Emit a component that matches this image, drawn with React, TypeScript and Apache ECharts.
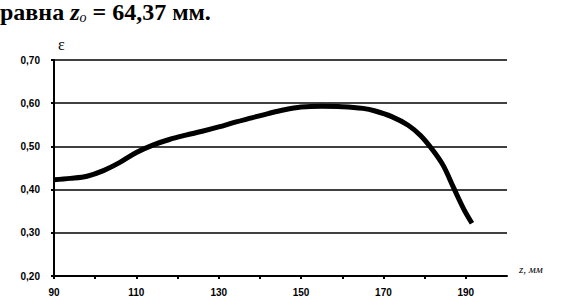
import React, { useEffect, useRef } from "react";
import * as echarts from "echarts";

const zValues: number[] = [90, 94, 98, 102, 106, 110, 114, 118, 122, 126, 130, 134, 138, 142, 146, 150, 155, 160, 165, 168, 172, 176, 179, 182, 184.5, 187, 189.5, 191.5];
const epsValues: number[] = [0.423, 0.426, 0.431, 0.444, 0.463, 0.486, 0.503, 0.516, 0.526, 0.535, 0.545, 0.556, 0.566, 0.576, 0.585, 0.591, 0.593, 0.592, 0.588, 0.582, 0.569, 0.549, 0.525, 0.491, 0.456, 0.405, 0.355, 0.322];
const xLabeled: number[] = [90, 110, 130, 150, 170, 190];
const titleText = "равна";
const titleValue = " = 64,37 мм.";
const yName = "ε";
const xName = "z, мм";

export default function App() {
  const ref = useRef<HTMLDivElement>(null);
  useEffect(() => {
    if (!ref.current) return;
    const chart = echarts.init(ref.current, null, { renderer: "svg" });
    const data = zValues.map((z, i) => [z, epsValues[i]]);
    chart.setOption({
      animation: false,
      backgroundColor: "#ffffff",
      grid: { left: 54, right: 67, top: 60, bottom: 31 },
      xAxis: {
        type: "value",
        min: 90,
        max: 200,
        interval: 10,
        axisLine: { show: true, lineStyle: { color: "#000", width: 2 } },
        axisTick: { show: true, length: 3, lineStyle: { color: "#000", width: 2 } },
        splitLine: { show: false },
        axisLabel: {
          color: "#000",
          fontFamily: "Liberation Sans",
          fontWeight: "bold",
          fontSize: 10,
          margin: 11,
          showMaxLabel: false,
          formatter: (v: number) => (xLabeled.indexOf(Math.round(v)) >= 0 ? String(Math.round(v)) : ""),
        },
      },
      yAxis: {
        type: "value",
        min: 0.2,
        max: 0.7,
        interval: 0.1,
        axisLine: { show: true, lineStyle: { color: "#000", width: 2 } },
        axisTick: { show: true, length: 3, lineStyle: { color: "#000", width: 2 } },
        splitLine: { show: true, lineStyle: { color: "#000", width: 1.5 } },
        axisLabel: {
          color: "#000",
          fontFamily: "Liberation Sans",
          fontWeight: "bold",
          fontSize: 10,
          margin: 14,
          formatter: (v: number) => v.toFixed(2).replace(".", ","),
        },
      },
      graphic: [
        {
          type: "text",
          left: 0,
          top: 0,
          style: {
            text: `{b|${titleText} }{i|z}{s|o}{b|${titleValue}}`,
            rich: {
              b: { fontFamily: "Liberation Serif", fontWeight: "bold", fontSize: 24, fill: "#000" },
              i: { fontFamily: "Liberation Serif", fontStyle: "italic", fontWeight: "bold", fontSize: 24, fill: "#000" },
              s: { fontFamily: "Liberation Serif", fontStyle: "italic", fontSize: 14, fill: "#000", padding: [10, 0, 0, 0] },
            },
          },
        },
        {
          type: "text",
          left: 58,
          top: 36,
          style: { text: yName, fontFamily: "Liberation Serif", fontSize: 16, fill: "#000" },
        },
        {
          type: "text",
          left: 519,
          top: 263,
          style: { text: xName, fontFamily: "Liberation Serif", fontStyle: "italic", fontSize: 11, fill: "#000" },
        },
      ],
      series: [
        {
          type: "line",
          data,
          smooth: 0.35,
          showSymbol: false,
          lineStyle: { color: "#000", width: 5 },
        },
      ],
    });
    return () => chart.dispose();
  }, []);
  return <div ref={ref} style={{ position: "fixed", left: 0, top: 0, width: 574, height: 307 }} />;
}
